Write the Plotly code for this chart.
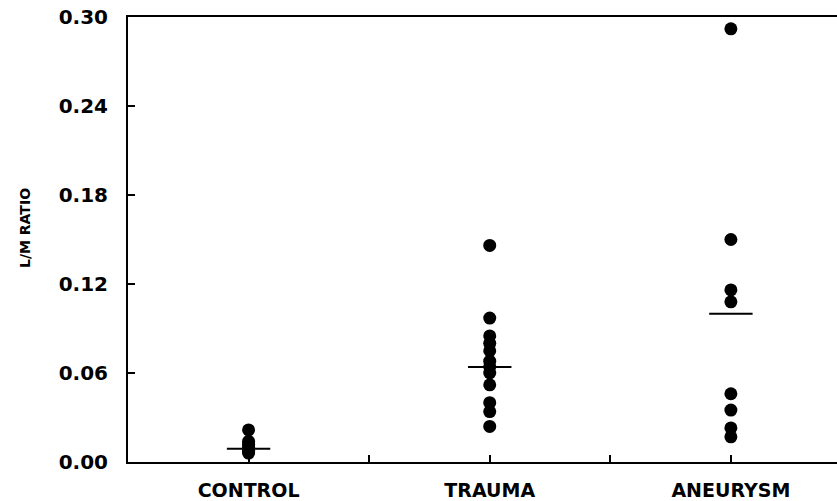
import plotly.graph_objects as go

categories = ["CONTROL", "TRAUMA", "ANEURYSM"]
control = [0.0216, 0.014, 0.012, 0.010, 0.008, 0.007, 0.006]
trauma = [0.146, 0.097, 0.085, 0.080, 0.075, 0.068, 0.064, 0.060, 0.052, 0.040, 0.034, 0.024]
aneurysm = [0.292, 0.150, 0.116, 0.108, 0.046, 0.035, 0.023, 0.017]
group_means = [0.009, 0.064, 0.100]
y_ticks = [0.00, 0.06, 0.12, 0.18, 0.24, 0.30]
y_ticktext = ["0.00", "0.06", "0.12", "0.18", "0.24", "0.30"]

groups = [control, trauma, aneurysm]
positions = [1, 2, 3]

W, H = 837, 501
L, T, B = 128, 17, 39
plot_w = W - L
plot_h = H - T - B

fig = go.Figure()
for pos, vals in zip(positions, groups):
    fig.add_trace(go.Scatter(
        x=[pos] * len(vals), y=vals, mode="markers",
        marker=dict(color="black", size=13, line=dict(width=0)),
        showlegend=False, hoverinfo="y"))

mx, my = [], []
half = 0.09
for pos, m in zip(positions, group_means):
    mx += [pos - half, pos + half, None]
    my += [m, m, None]
fig.add_trace(go.Scatter(x=mx, y=my, mode="lines",
                         line=dict(color="black", width=2), showlegend=False,
                         hoverinfo="skip"))

fig.update_layout(
    width=W, height=H,
    margin=dict(l=L, r=0, t=T, b=B),
    plot_bgcolor="white", paper_bgcolor="white",
    font=dict(family="DejaVu Sans", color="black"),
)
fig.update_xaxes(
    range=[0.5, 3.44], tickmode="array",
    tickvals=[1, 1.5, 2, 2.5, 3],
    ticktext=[categories[0], "", categories[1], "", categories[2]],
    ticks="inside", ticklen=7, tickwidth=1.5, tickcolor="black",
    showline=True, linecolor="black", linewidth=2, mirror=True,
    showgrid=False, zeroline=False, automargin=False,
    tickfont=dict(family="DejaVu Sans", size=19, color="black", weight="bold"),
    ticklabelstandoff=10,
)
fig.update_yaxes(
    range=[0, 0.30], tickmode="array", tickvals=y_ticks, ticktext=y_ticktext,
    ticks="inside", ticklen=7, tickwidth=1.5, tickcolor="black",
    showline=True, linecolor="black", linewidth=2,
    showgrid=False, zeroline=False, automargin=False,
    tickfont=dict(family="DejaVu Sans", size=20, color="black", weight="bold"),
    ticklabelstandoff=14,
)
fig.add_annotation(
    text="L/M RATIO", textangle=-90, xref="paper", yref="paper",
    x=-103 / plot_w, y=(462 - 228) / plot_h, xanchor="center", yanchor="middle",
    showarrow=False,
    font=dict(family="DejaVu Sans", size=14, color="black", weight="bold"),
)
fig.write_html("out.html", post_script="document.body.style.margin='0';",
               config={"displayModeBar": False})
